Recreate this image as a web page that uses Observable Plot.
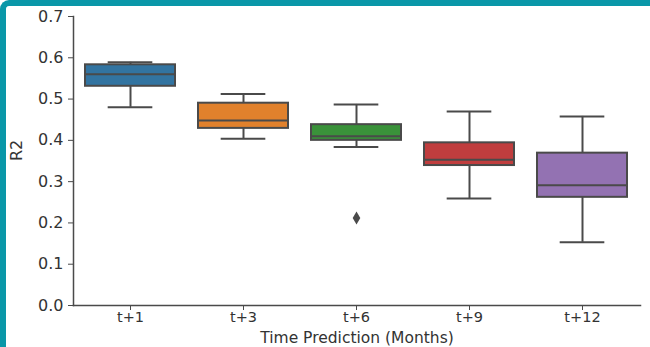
<!DOCTYPE html>
<html>
<head>
<meta charset="utf-8">
<script src="https://cdn.jsdelivr.net/npm/d3@7"></script>
<script src="https://cdn.jsdelivr.net/npm/@observablehq/plot@0.6"></script>
<style>
  html, body { margin: 0; padding: 0; background: #fff; overflow: hidden; }
  #wrap { position: relative; width: 650px; height: 347px; overflow: hidden; }
  #border {
    position: absolute; left: 0; top: 0; width: 650px; height: 370px;
    box-sizing: border-box;
    border-top: 6px solid #0a97a8; border-left: 6px solid #0a97a8;
    border-top-left-radius: 9px; pointer-events: none;
  }
</style>
</head>
<body>
<div id="wrap"><div id="chart"></div><div id="border"></div></div>
<script>
const categories = ["t+1", "t+3", "t+6", "t+9", "t+12"];
const whiskerLow  = [0.480, 0.404, 0.384, 0.259, 0.153];
const q1          = [0.531, 0.429, 0.400, 0.339, 0.262];
const median      = [0.560, 0.448, 0.410, 0.353, 0.291];
const q3          = [0.583, 0.490, 0.438, 0.394, 0.369];
const whiskerHigh = [0.589, 0.512, 0.487, 0.470, 0.458];
const outlierCats = ["t+6"];
const outlierVals = [0.212];
const colors = ["#3274a1", "#e1812c", "#3a923a", "#c03d3e", "#9372b2"];
const yTicks = [0, 0.1, 0.2, 0.3, 0.4, 0.5, 0.6, 0.7];

const boxes = categories.map((c, i) => ({
  cat: c, lo: whiskerLow[i], q1: q1[i], med: median[i], q3: q3[i], hi: whiskerHigh[i], color: colors[i]
}));
const outliers = outlierCats.map((c, i) => ({cat: c, v: outlierVals[i]}));

const lineColor = "#4a4a4a";
const textColor = "#333333";
const W = 650, H = 347, ML = 73, MR = 10;
const capInset = ((W - ML - MR) / categories.length) * 0.8 / 4;

const chart = Plot.plot({
  width: W,
  height: H,
  marginLeft: ML,
  marginRight: MR,
  marginTop: 16,
  marginBottom: 42,
  style: {fontFamily: "DejaVu Sans", fontSize: "16px", color: textColor, background: "transparent"},
  x: {domain: categories, paddingInner: 0.2, paddingOuter: 0.1, label: null},
  y: {domain: [0, 0.7], label: null},
  marks: [
    Plot.ruleX(boxes, {x: "cat", y1: "lo", y2: "q1", stroke: lineColor, strokeWidth: 2}),
    Plot.ruleX(boxes, {x: "cat", y1: "q3", y2: "hi", stroke: lineColor, strokeWidth: 2}),
    Plot.tickY(boxes, {x: "cat", y: "lo", stroke: lineColor, strokeWidth: 2, insetLeft: capInset, insetRight: capInset}),
    Plot.tickY(boxes, {x: "cat", y: "hi", stroke: lineColor, strokeWidth: 2, insetLeft: capInset, insetRight: capInset}),
    Plot.barY(boxes, {x: "cat", y1: "q1", y2: "q3", fill: "color", stroke: lineColor, strokeWidth: 2}),
    Plot.tickY(boxes, {x: "cat", y: "med", stroke: lineColor, strokeWidth: 2}),
    Plot.dot(outliers, {x: "cat", y: "v", symbol: "diamond", r: 4, fill: lineColor, stroke: null}),
    Plot.axisY({ticks: yTicks, tickFormat: ".1f", tickSize: 5, tickPadding: 5, stroke: lineColor, fill: textColor, label: null}),
    Plot.axisX({tickSize: 5, tickPadding: 1, fontSize: 14.5, stroke: lineColor, fill: textColor, label: null}),
    Plot.frame({anchor: "left", stroke: lineColor, strokeWidth: 1.5}),
    Plot.frame({anchor: "bottom", stroke: lineColor, strokeWidth: 1.5}),
    Plot.text(["R2"], {frameAnchor: "left", dx: -57, rotate: -90, fill: textColor}),
    Plot.text(["Time Prediction (Months)"], {frameAnchor: "bottom", dy: 37, fontSize: 15.5, fill: textColor})
  ]
});
document.getElementById("chart").appendChild(chart);
</script>
</body>
</html>
